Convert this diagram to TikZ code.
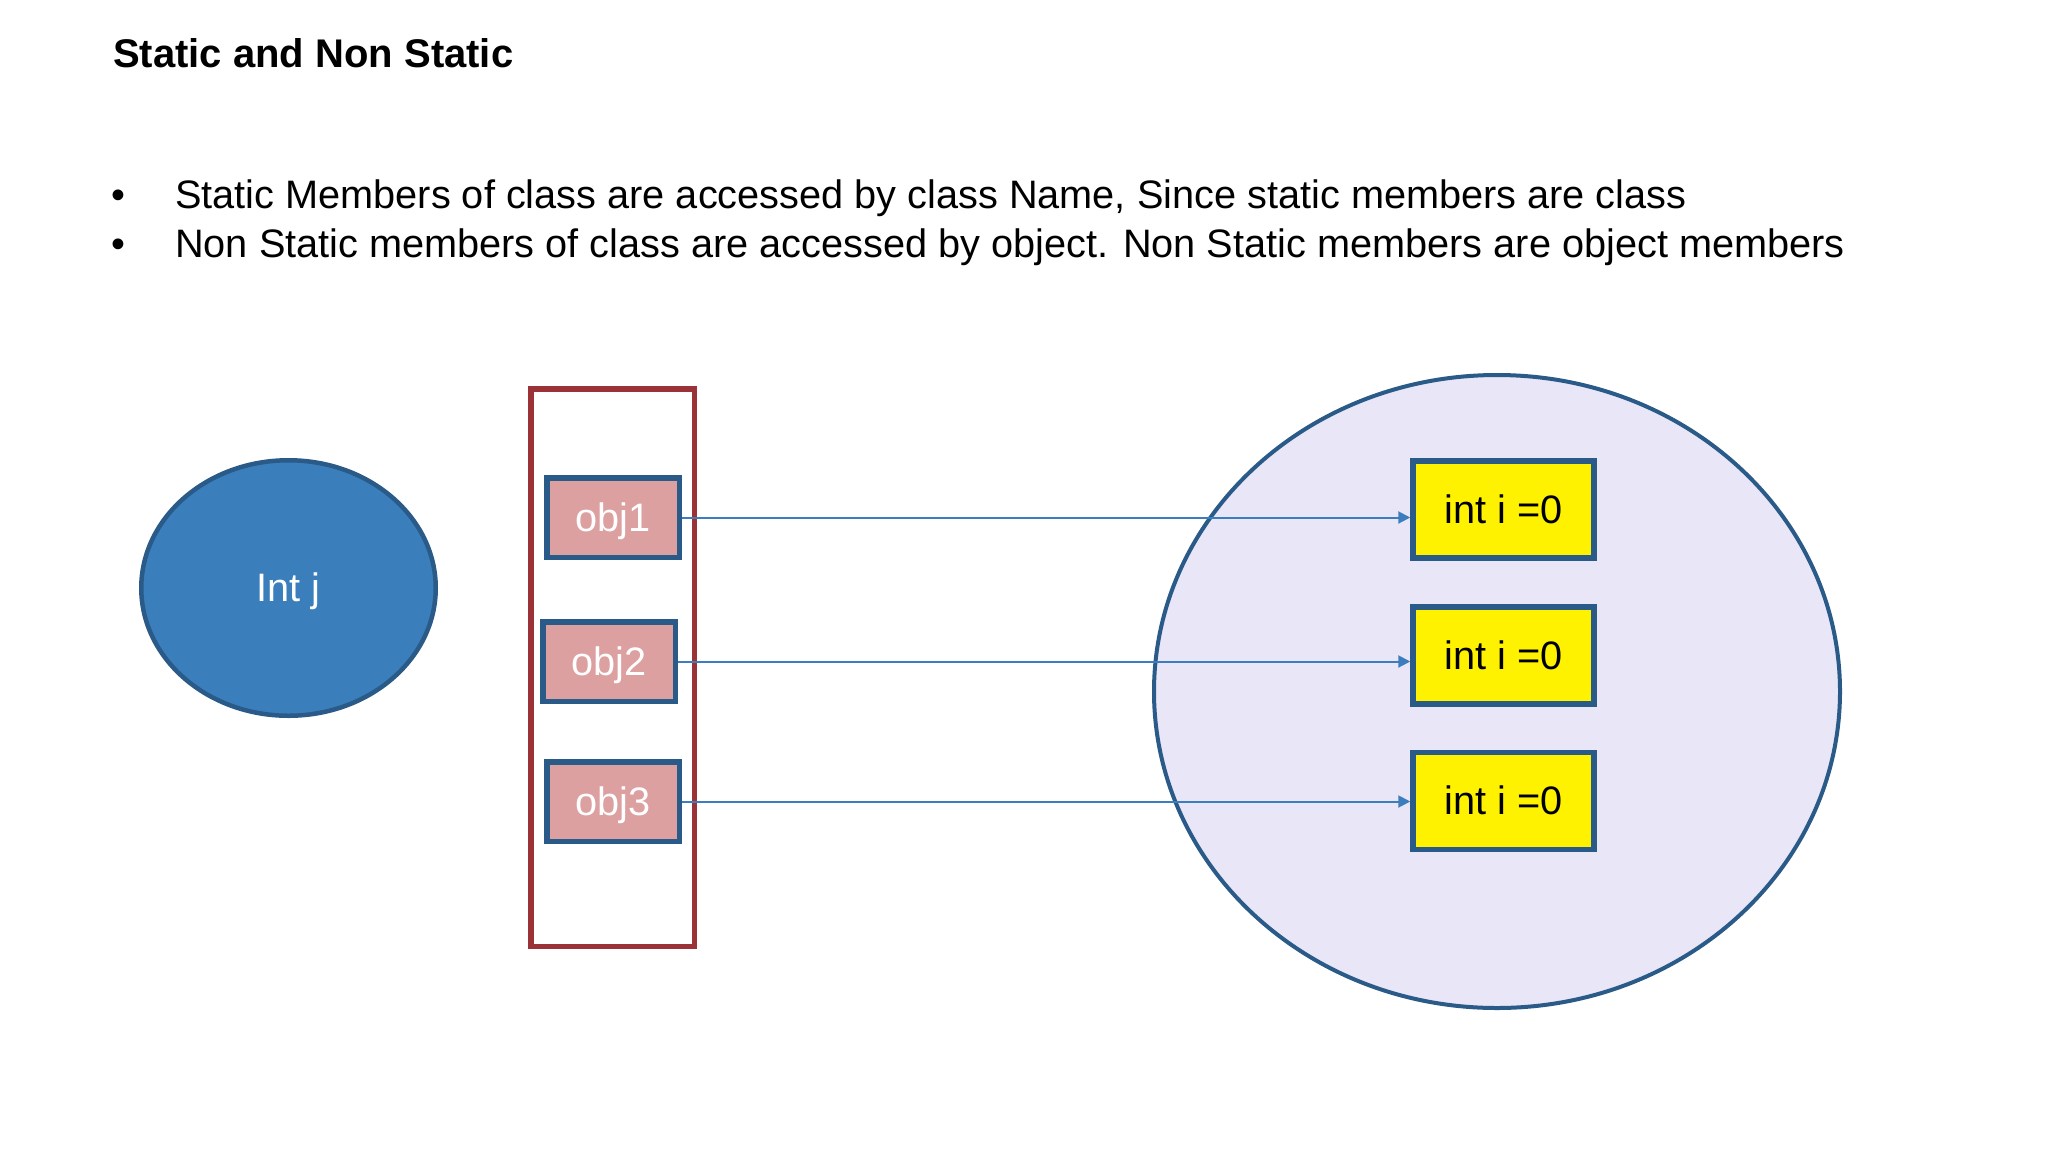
\documentclass[tikz,border=0pt]{standalone}
\usepackage{fontspec}
\setmainfont{Liberation Sans}
\usepackage{tikz}
\usetikzlibrary{positioning, shapes.geometric, arrows.meta}

\definecolor{intblue}{RGB}{58,127,187}
\definecolor{edgeblue}{RGB}{42,90,136}
\definecolor{objpink}{RGB}{221,160,161}
\definecolor{framered}{RGB}{155,50,55}
\definecolor{heaplav}{RGB}{233,230,247}
\definecolor{arrowblue}{RGB}{60,125,190}

\tikzset{
    txt/.style={font=\fontsize{39.7}{48}\selectfont},
    boxtxt/.style={txt, text height=35.9pt, text depth=8.4pt},
    objbox/.style={draw=edgeblue, line width=5.5pt, fill=objpink, text=white, boxtxt,
        minimum width=132.5pt, minimum height=79.5pt, inner sep=0pt},
    valbox/.style={draw=edgeblue, line width=5.5pt, fill=yellow, text=black, boxtxt,
        minimum width=181pt, minimum height=97pt, inner sep=0pt},
    ref/.style={draw=arrowblue, line width=2pt, -{Triangle[length=12pt, width=12pt]}}
}

\begin{document}
\begin{tikzpicture}[x=1pt, y=-1pt]
        \useasboundingbox (0,0) rectangle (2048,1152);

        % heading and bullets
        \node[anchor=base west, inner sep=0pt, font=\bfseries\fontsize{40}{48}\selectfont] (title) at (113,67) {Static and Non Static};
        \node[anchor=base west, inner sep=0pt, txt] (b1) at (175,208) {Static Members of class are accessed by class Name, Since static members are class};
        \node[anchor=base west, inner sep=0pt, txt] (b2) at (175,257) {Non Static members of class are accessed by object. Non Static members are object members};
        \node[anchor=base, inner sep=0pt, txt] (d1) at (118,208) {•};
        \node[anchor=base, inner sep=0pt, txt] (d2) at (118,257) {•};

        % static member
        \node[ellipse, draw=edgeblue, line width=4.5pt, fill=intblue, text=white, boxtxt,
            minimum width=294.5pt, minimum height=255.5pt, inner sep=0pt] (intj) at (288.5,588) {Int j};

        % references
        \node[draw=framered, line width=5.5pt, minimum width=163.5pt, minimum height=557.5pt, inner sep=0pt] (stack) at (612.5,667.5) {};
        \node[objbox] (obj1) at (613,517.5) {obj1};
        \node[objbox] (obj2) at (609,661.5) {obj2};
        \node[objbox] (obj3) at (613,801.5) {obj3};

        % objects
        \node[ellipse, draw=edgeblue, line width=4pt, fill=heaplav,
            minimum width=686pt, minimum height=633pt, inner sep=0pt] (heap) at (1497,691.5) {};
        \node[valbox] (val1) at (1503.5,509.5) {int i =0};
        \node[valbox] (val2) at (1503.5,655.5) {int i =0};
        \node[valbox] (val3) at (1503.5,801) {int i =0};

        \draw[ref] (obj1.east) -- (obj1.east -| val1.west);
        \draw[ref] (obj2.east) -- (obj2.east -| val2.west);
        \draw[ref] (obj3.east) -- (obj3.east -| val3.west);
    \end{tikzpicture}
\end{document}
